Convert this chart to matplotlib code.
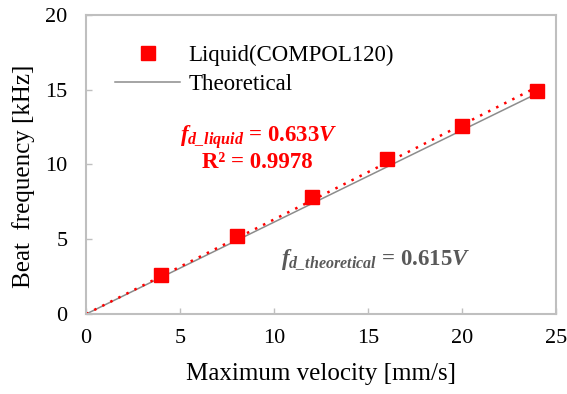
import matplotlib
matplotlib.use("Agg")
import matplotlib.pyplot as plt
import numpy as np

plt.rcParams['font.family'] = ['Liberation Serif', 'DejaVu Serif']
plt.rcParams['mathtext.fontset'] = 'custom'
plt.rcParams['mathtext.rm'] = 'Liberation Serif'
plt.rcParams['mathtext.it'] = 'Liberation Serif:italic'
plt.rcParams['mathtext.bf'] = 'Liberation Serif:bold'
plt.rcParams['mathtext.bfit'] = 'Liberation Serif:bold:italic'

# measured data
velocity = [4, 8, 12, 16, 20, 24]
beat_freq = [2.6, 5.25, 7.85, 10.35, 12.6, 14.9]

# fits (through origin)
slope_liquid = 0.633
slope_theory = 0.615
v_fit = [0, 24]

fig, ax = plt.subplots(figsize=(5.67, 3.94), dpi=100)
fig.subplots_adjust(left=0.152, right=0.981, top=0.962, bottom=0.203)

ax.plot(velocity, beat_freq, 's', color='#ff0000', markersize=10,
        label='Liquid(COMPOL120)', zorder=3)
ax.plot(v_fit, [slope_theory * v for v in v_fit], '-', color='#8c8c8c',
        lw=1.1, label='Theoretical', zorder=2)
ax.plot(v_fit, [slope_liquid * v for v in v_fit], color='#ff0000',
        lw=1.8, dashes=(1, 2.6), zorder=2)

ax.set_xlim(0, 25)
ax.set_ylim(0, 20)
ax.set_xticks([0, 5, 10, 15, 20, 25])
ax.set_yticks([0, 5, 10, 15, 20])
ax.tick_params(direction='in', length=4, width=1, color='#bfbfbf',
               labelsize=16)
ax.tick_params(axis='x', pad=11)
ax.tick_params(axis='y', pad=13.5)
for s in ax.spines.values():
    s.set_color('#bfbfbf')
    s.set_linewidth(1.5)

ax.set_xlabel('Maximum velocity [mm/s]', fontsize=18)
ax.xaxis.set_label_coords(0.5, -0.165)
ax.set_ylabel('Beat  frequency [kHz]', fontsize=18)
ax.yaxis.set_label_coords(-0.109, 0.46)

leg = ax.legend(loc='upper left', bbox_to_anchor=(0.062, 0.90), frameon=False,
                fontsize=16.5, handlelength=2.83, handletextpad=0.35,
                labelspacing=0.35, borderaxespad=0, borderpad=0)

ax.text(0.2, 0.592, r'$\mathbfit{f}_{\mathbfit{d\_liquid}}$' + ' = 0.633' + r'$\mathbfit{V}$',
        transform=ax.transAxes, color='#ff0000', fontsize=16.5,
        fontweight='bold', ha='left', va='center')
ax.text(0.364, 0.508, 'R² = 0.9978', transform=ax.transAxes, color='#ff0000',
        fontsize=16.5, fontweight='bold', ha='center', va='center')
ax.text(0.415, 0.18, r'$\mathbfit{f}_{\mathbfit{d\_theoretical}}$' + ' = 0.615' + r'$\mathbfit{V}$',
        transform=ax.transAxes, color='#595959', fontsize=16.5,
        fontweight='bold', ha='left', va='center')

fig.savefig('out.png', dpi=100)
